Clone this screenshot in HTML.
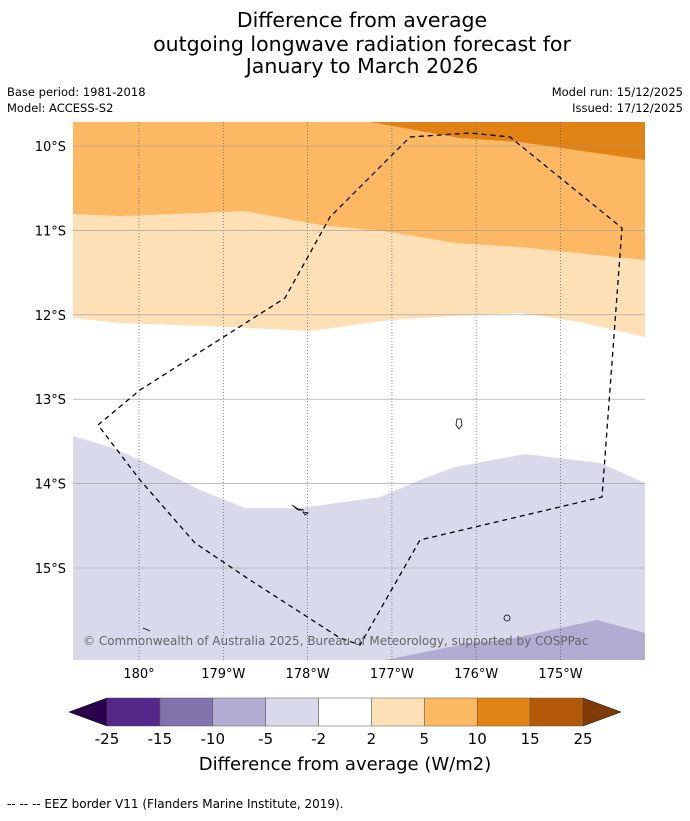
<!DOCTYPE html>
<html><head><meta charset="utf-8"><style>
body{margin:0;background:#fff;width:690px;height:816px;overflow:hidden;font-family:"Liberation Sans","DejaVu Sans",sans-serif}
</style></head><body>
<svg id="s" width="690" height="816" xmlns="http://www.w3.org/2000/svg" font-family="DejaVu Sans, Liberation Sans, sans-serif">
<g font-size="20.5" text-anchor="middle" fill="#000">
<text x="362" y="27">Difference from average</text>
<text x="362" y="51">outgoing longwave radiation forecast for</text>
<text x="362" y="73">January to March 2026</text>
</g>
<g font-size="11.5" fill="#000">
<text x="7" y="96">Base period: 1981-2018</text>
<text x="7" y="112">Model: ACCESS-S2</text>
<text x="683" y="96" text-anchor="end">Model run: 15/12/2025</text>
<text x="683" y="112" text-anchor="end">Issued: 17/12/2025</text>
</g>
<defs><clipPath id="mc"><rect x="73" y="122" width="572" height="538"/></clipPath></defs>
<g clip-path="url(#mc)">
<rect x="73" y="122" width="572" height="538" fill="#d8daeb"/>
<polygon fill="#ffffff" points="73,122 645,122 645,483 600,463 525,454 455,467 420,480 380,497 300,508 245,508 200,490 140,460 110,447 73,436"/>
<polygon fill="#fee0b6" points="73,122 645,122 645,337 580,322 520,313 470,315 390,320 310,331 230,327 120,323 73,318"/>
<polygon fill="#fdb863" points="73,122 645,122 645,260 520,247 455,243 390,232 320,225 245,211 120,216 73,214"/>
<polygon fill="#e08214" points="370,122 645,122 645,160 520,142 460,138"/>
<polygon fill="#b2abd2" points="385,660 470,643 510,639 597,620 645,633 645,660"/>
<g id="grid"></g>
<polyline fill="none" stroke="#000" stroke-width="1.3" stroke-dasharray="5,4" points="98,425 140,390 285,298 330,217 410,137 470,133 510,137 622,228 602,497 420,540 360,645 340,638 250,580 195,543 140,480 98,425"/>
<g fill="none" stroke="#000" stroke-width="0.8">
<path d="M457,419 l4,0 l1,6 l-3,4 l-3,-4 z"/>
<path d="M292,505 l6,4 l6,1 l-6,0 z"/>
<path d="M303,512 l5,1 l-3,2 z"/>
<circle cx="507" cy="618" r="3"/>
<path d="M143,628 l7,3"/>
</g>
<text x="83" y="645" font-size="12" fill="#666">© Commonwealth of Australia 2025, Bureau of Meteorology, supported by COSPPac</text>
</g>
<g id="axes" font-size="13" fill="#000"></g>
<g id="cbar"></g>
<text x="345" y="770" font-size="18" text-anchor="middle">Difference from average (W/m2)</text>
<text x="7" y="808" font-size="12">--  --  -- EEZ border V11 (Flanders Marine Institute, 2019).</text>
</svg>
<script>
const lonLabels=["180°","179°W","178°W","177°W","176°W","175°W"];
const lonVals=[180,181,182,183,184,185];
const latLabels=["10°S","11°S","12°S","13°S","14°S","15°S"];
const latVals=[10,11,12,13,14,15];
const cbLevels=["-25","-15","-10","-5","-2","2","5","10","15","25"];
const cbColors=["#542788","#8073ac","#b2abd2","#d8daeb","#ffffff","#fee0b6","#fdb863","#e08214","#b35806"];
const NS="http://www.w3.org/2000/svg";
function X(lon){return 139+(lon-180)*84.3;}
function Y(lat){return 146+(lat-10)*84.4;}
function mk(t,a,p){const e=document.createElementNS(NS,t);for(const k in a)e.setAttribute(k,a[k]);p.appendChild(e);return e;}
const grid=document.getElementById('grid'),axes=document.getElementById('axes'),cb=document.getElementById('cbar');
lonVals.forEach((v,i)=>{const l=mk('line',{x1:X(v),x2:X(v),y1:122,y2:660,stroke:'#556',"stroke-width":0.7,"stroke-dasharray":"1,2"},grid);


const t=mk('text',{x:X(v),y:678,"text-anchor":"middle"},axes);t.textContent=lonLabels[i];

});
latVals.forEach((v,i)=>{const l=mk('line',{x1:73,x2:645,y1:Y(v),y2:Y(v),stroke:'#999',"stroke-width":0.6},grid);


const t=mk('text',{x:66,y:Y(v)+5,"text-anchor":"end"},axes);t.textContent=latLabels[i];

});
const x0=107,x1=583,y0=698,y1=726,w=(x1-x0)/cbColors.length;
const lt=mk('polygon',{points:`${x0},${y0} ${x0},${y1} 69,712`,fill:'#2d004b',stroke:'#000',"stroke-width":0.5},cb);


const rt=mk('polygon',{points:`${x1},${y0} ${x1},${y1} 621,712`,fill:'#7f3b08',stroke:'#000',"stroke-width":0.5},cb);


cbColors.forEach((c,i)=>{const r=mk('rect',{x:x0+i*w,y:y0,width:w,height:y1-y0,fill:c,stroke:'#555',"stroke-width":0.5},cb);

});
cbLevels.forEach((s,i)=>{const t=mk('text',{x:x0+i*w,y:744,"text-anchor":"middle","font-size":15},cb);t.textContent=s;

});
</script>
</body></html>
